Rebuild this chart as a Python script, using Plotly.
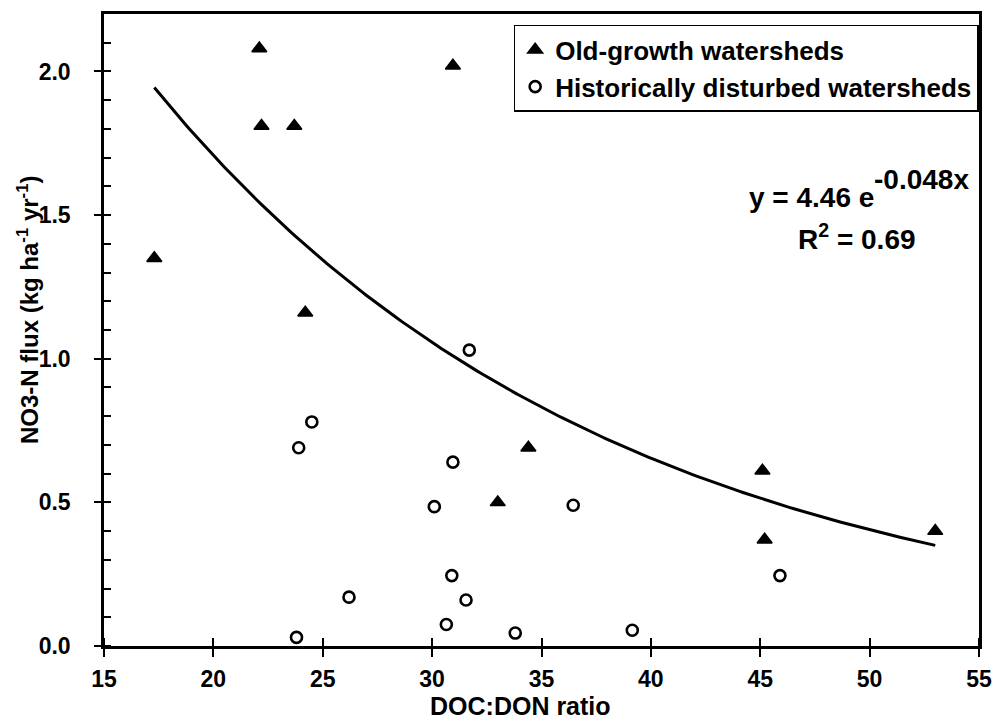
import numpy as np
import plotly.graph_objects as go

# Old-growth watersheds (filled triangles)
old_x = [22.1, 22.2, 23.7, 30.95, 17.3, 24.2, 34.4, 33.0, 45.1, 45.2, 53.0]
old_y = [2.08, 1.81, 1.81, 2.02, 1.35, 1.16, 0.69, 0.50, 0.61, 0.37, 0.40]

# Historically disturbed watersheds (open circles)
dist_x = [31.7, 24.5, 23.9, 30.95, 30.1, 36.45, 30.9, 26.2, 31.55, 30.65, 23.8, 33.8, 39.15, 45.9]
dist_y = [1.03, 0.78, 0.69, 0.64, 0.485, 0.49, 0.245, 0.17, 0.16, 0.075, 0.03, 0.045, 0.055, 0.245]

# Exponential fit y = a * exp(b * x) over the range of the data
fit_a = 4.46
fit_b = -0.048
fit_r2 = 0.69
fit_x = np.linspace(min(old_x + dist_x), max(old_x + dist_x), 200)
fit_y = fit_a * np.exp(fit_b * fit_x)

x_ticks = [15, 20, 25, 30, 35, 40, 45, 50, 55]
y_ticks = [0.0, 0.5, 1.0, 1.5, 2.0]
y_inner_ticks = [0.0, 0.1, 0.2, 0.3, 0.4, 0.5, 0.6, 0.7, 0.8, 0.9, 1.0,
                 1.1, 1.2, 1.3, 1.4, 1.5, 1.6, 1.7, 1.8, 1.9, 2.0, 2.1]
x_range = [15, 55]
y_range = [0, 2.2]

FONT = "Liberation Sans, Arial, Helvetica, sans-serif"

fig = go.Figure()

fig.add_trace(go.Scatter(
    x=fit_x, y=fit_y, mode="lines",
    line=dict(color="black", width=3),
    showlegend=False, hoverinfo="skip",
))
fig.add_trace(go.Scatter(
    x=old_x, y=old_y, mode="markers", name="Old-growth watersheds",
    marker=dict(symbol="triangle-up", size=13, color="black",
                line=dict(color="black", width=1.5)),
))
fig.add_trace(go.Scatter(
    x=dist_x, y=dist_y, mode="markers", name="Historically disturbed watersheds",
    marker=dict(symbol="circle-open", size=11, color="black",
                line=dict(color="black", width=2.6)),
))

axis_font = dict(family=FONT, size=23, color="black", weight="bold")

# Major ticks point outward; the "minor" set supplies the inward halves so the
# ticks cross the frame, plus the 0.1 marks on the y axis.
fig.update_layout(
    width=1003, height=727,
    margin=dict(l=104, r=19, t=11, b=81),
    paper_bgcolor="white", plot_bgcolor="white",
    font=dict(family=FONT, color="black"),
    xaxis=dict(
        range=x_range, tickvals=x_ticks, ticks="outside", ticklen=8, tickwidth=2,
        tickcolor="black", showline=True, linewidth=2.5, linecolor="black",
        mirror=True, showgrid=False, zeroline=False, tickfont=axis_font,
        ticklabelstandoff=3,
        minor=dict(tickmode="array", tickvals=x_ticks, ticks="inside",
                   ticklen=8, tickwidth=2, tickcolor="black"),
    ),
    yaxis=dict(
        range=y_range, tickvals=y_ticks, tickformat=".1f", ticks="outside",
        ticklen=7, tickwidth=2, tickcolor="black", showline=True, linewidth=2.5,
        linecolor="black", mirror=True, showgrid=False, zeroline=False,
        tickfont=axis_font, ticklabelstandoff=19,
        minor=dict(tickmode="array", tickvals=y_inner_ticks, ticks="inside",
                   ticklen=7, tickwidth=2, tickcolor="black"),
    ),
    legend=dict(
        x=(516 - 104) / 880, y=(646 - 22) / 635, xanchor="left", yanchor="top",
        bgcolor="white", bordercolor="black", borderwidth=1.5,
        font=dict(family=FONT, size=26, color="black", weight="bold"),
        itemwidth=30,
    ),
    showlegend=True,
)

eq_font = dict(family=FONT, size=28, color="black", weight="bold")
annotations = [
    dict(text="y = %.2f e" % fit_a, x=44.4, y=1.56, xref="x", yref="y",
         xanchor="left", yanchor="middle", showarrow=False, font=eq_font),
    dict(text="%.3fx" % fit_b, x=50.1, y=1.625, xref="x", yref="y",
         xanchor="left", yanchor="middle", showarrow=False, font=eq_font),
    dict(text="R<sup>2</sup> = %.2f" % fit_r2, x=49.4, y=1.425, xref="x", yref="y",
         xanchor="center", yanchor="middle", showarrow=False, font=eq_font),
    dict(text="DOC:DON ratio", x=(523 - 104) / 880, y=(646 - 706) / 635,
         xref="paper", yref="paper", xanchor="center", yanchor="middle",
         showarrow=False, font=dict(family=FONT, size=25, color="black", weight="bold")),
    dict(text="NO3-N flux (kg ha<sup>-1</sup> yr<sup>-1</sup>)", textangle=-90,
         x=(27 - 104) / 880, y=(646 - 308) / 635, xref="paper", yref="paper",
         xanchor="center", yanchor="middle", showarrow=False,
         font=dict(family=FONT, size=24, color="black", weight="bold")),
]
fig.update_layout(annotations=annotations)

fig.write_html("out.html")
